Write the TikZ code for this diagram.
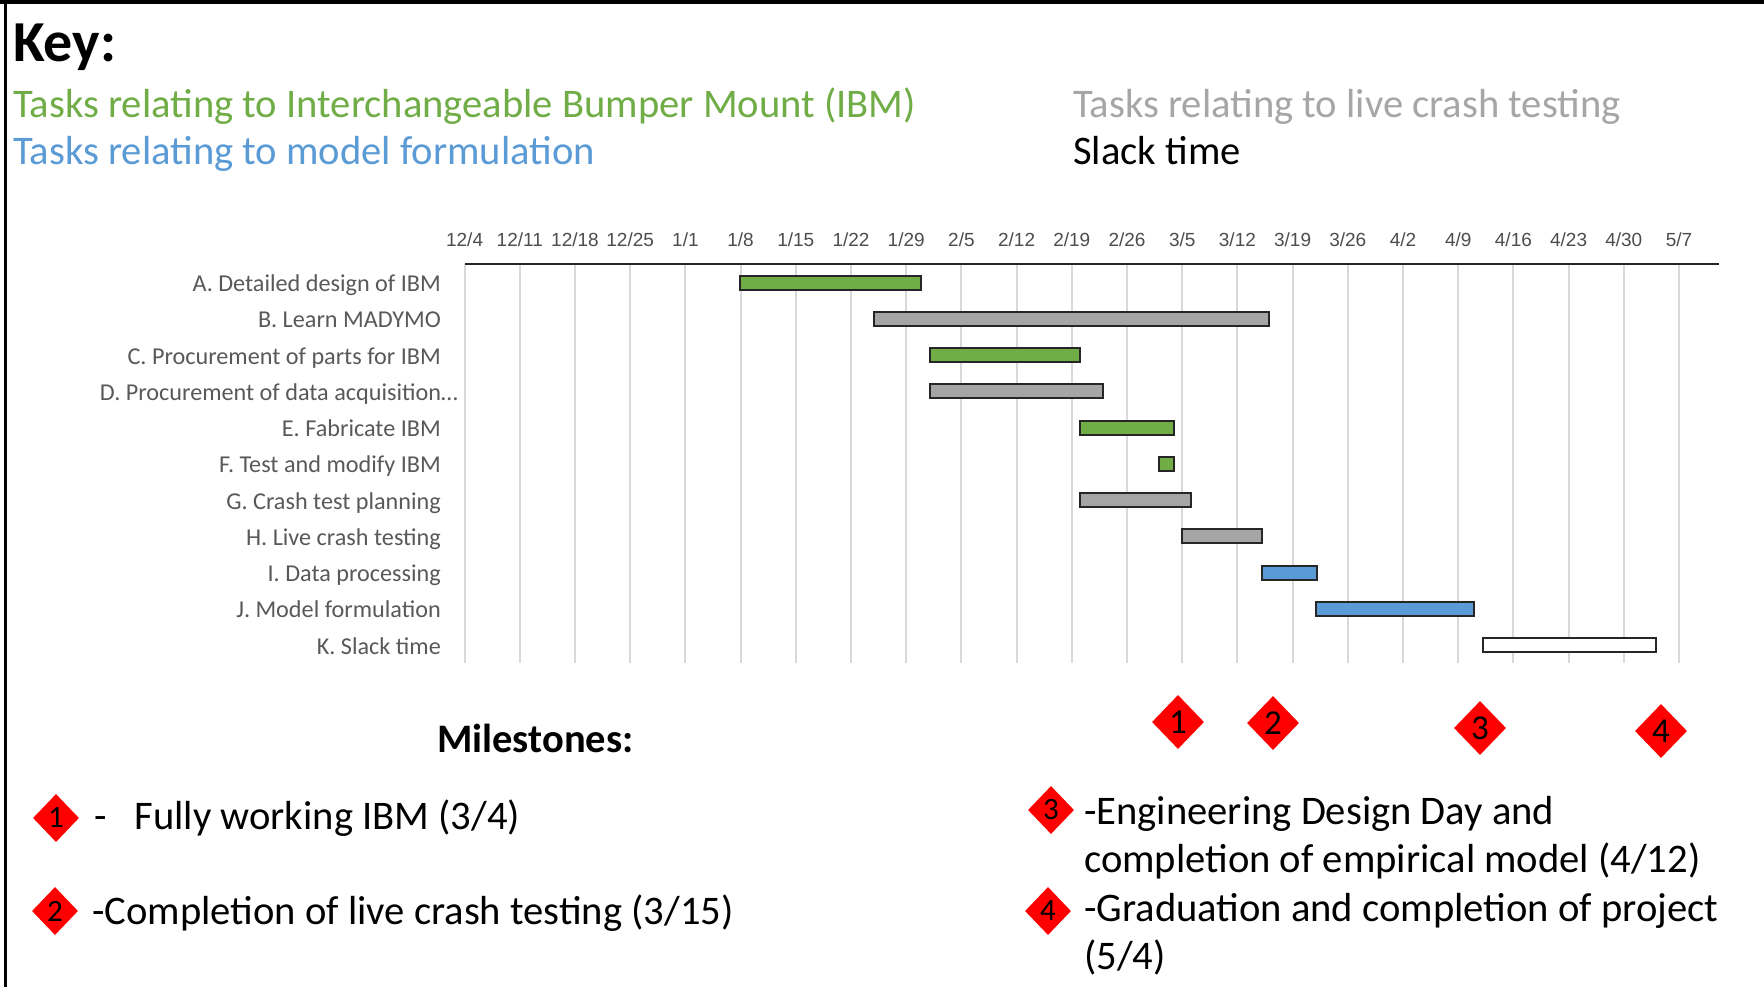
\documentclass[tikz,border=0pt]{standalone}
\usepackage{fontspec}
\setmainfont{Carlito}
\newfontfamily\datefont{Liberation Sans}
\usetikzlibrary{shapes.geometric}
\definecolor{ibmgreen}{HTML}{70AD47}
\definecolor{modelblue}{HTML}{5B9BD5}
\definecolor{crashgray}{HTML}{A5A5A5}
\definecolor{keygray}{HTML}{A6A6A6}
\definecolor{labelgray}{HTML}{595959}
\definecolor{dategray}{HTML}{4D4D4D}
\definecolor{gridgray}{HTML}{D9D9D9}
\definecolor{edgedark}{HTML}{262626}
\definecolor{msred}{HTML}{FF0000}

\begin{document}
\begin{tikzpicture}[x=1pt,y=-1pt,
  keytext/.style={anchor=base west, inner sep=0pt, font=\fontsize{40.6}{48}\selectfont},
  tasklabel/.style={anchor=base east, inner sep=0pt, text=labelgray, font=\fontsize{24.2}{28}\selectfont},
  datelabel/.style={anchor=base, inner sep=0pt, text=dategray, font=\datefont\fontsize{19}{22}\selectfont},
  taskbar/.style={draw=edgedark, line width=2pt},
  gridline/.style={draw=gridgray, line width=2pt},
  milestone/.style={diamond, fill=msred, inner sep=0pt, minimum width=52pt, minimum height=54pt, font=\fontsize{35}{35}\selectfont},
  smallmilestone/.style={milestone, minimum width=46pt, minimum height=48pt, font=\fontsize{31}{31}\selectfont},
]
\useasboundingbox (0,0) rectangle (1764,987);
\fill[white] (0,0) rectangle (1764,987);

% frame
\draw[line width=3.5pt] (0,2) -- (1764,2);
\draw[line width=2.5pt] (5.5,0) -- (5.5,987);

% key
\node[anchor=base west, inner sep=0pt, font=\bfseries\fontsize{58}{64}\selectfont] (key) at (13,62) {Key:};
\node[keytext, text=ibmgreen] (keyibm) at (13,118) {Tasks relating to Interchangeable Bumper Mount (IBM)};
\node[keytext, text=modelblue] (keymodel) at (13,165) {Tasks relating to model formulation};
\node[keytext, text=keygray] (keycrash) at (1073,118) {Tasks relating to live crash testing};
\node[keytext, text=black] (keyslack) at (1073,165) {Slack time};

% week grid and date axis
\foreach \d [count=\k from 0] in {12/4,12/11,12/18,12/25,1/1,1/8,1/15,1/22,1/29,2/5,2/12,2/19,2/26,3/5,3/12,3/19,3/26,4/2,4/9,4/16,4/23,4/30,5/7} {
  \pgfmathsetmacro{\gx}{464.6+55.2*\k}
  \draw[gridline] (\gx,264) -- (\gx,663);
  \node[datelabel] (date\k) at (\gx,246) {\d};
}
\draw[draw=edgedark, line width=2pt] (464.6,264) -- (1719,264);

% task labels
\foreach \lab [count=\i from 0] in {A. Detailed design of IBM, B. Learn MADYMO, C. Procurement of parts for IBM, E. Fabricate IBM, F. Test and modify IBM, G. Crash test planning, H. Live crash testing, I. Data processing, J. Model formulation, K. Slack time} {
  \pgfmathsetmacro{\row}{\i<3 ? \i : \i+1}
  \pgfmathsetmacro{\ly}{282.5+36.25*\row+9}
  \node[tasklabel] (task\i) at (441,\ly) {\lab};
}
\node[tasklabel] (taskD) at (458,{282.5+36.25*3+9}) {D. Procurement of data acquisition…};

% task bars
\foreach \r/\xa/\xb/\col in {0/740/921/ibmgreen, 1/874/1269/crashgray, 2/930/1080/ibmgreen, 3/930/1103/crashgray, 4/1080/1174/ibmgreen, 5/1159/1174/ibmgreen, 6/1080/1191/crashgray, 7/1182/1262/crashgray, 8/1262/1317/modelblue, 9/1316/1474/modelblue, 10/1483/1656/white} {
  \pgfmathsetmacro{\cy}{282.5+36.25*\r}
  \draw[taskbar, fill=\col] (\xa,\cy-7) rectangle (\xb,\cy+7);
}

% milestones on the time line
\node[milestone] (ms1) at (1178,722) {1};
\node[milestone] (ms2) at (1273,723) {2};
\node[milestone] (ms3) at (1480,728) {3};
\node[milestone] (ms4) at (1661,731) {4};

% milestone legend
\node[anchor=base west, inner sep=0pt, font=\bfseries\fontsize{40.5}{46}\selectfont] (mstitle) at (437,752) {Milestones:};

\node[smallmilestone] (lg1) at (56,818) {1};
\node[keytext] (lg1txt) at (94,829) {-\hspace{28pt}Fully working IBM (3/4)};
\node[smallmilestone] (lg2) at (55,911) {2};
\node[keytext] (lg2txt) at (92,924) {-Completion of live crash testing (3/15)};

\node[smallmilestone] (lg3) at (1051,810) {3};
\node[keytext] (lg3txt) at (1084,824) {-Engineering Design Day and};
\node[keytext] (lg3txtb) at (1084,872) {completion of empirical model (4/12)};
\node[smallmilestone] (lg4) at (1048,911) {4};
\node[keytext] (lg4txt) at (1084,921) {-Graduation and completion of project};
\node[keytext] (lg4txtb) at (1084,969) {(5/4)};
\end{tikzpicture}
\end{document}
